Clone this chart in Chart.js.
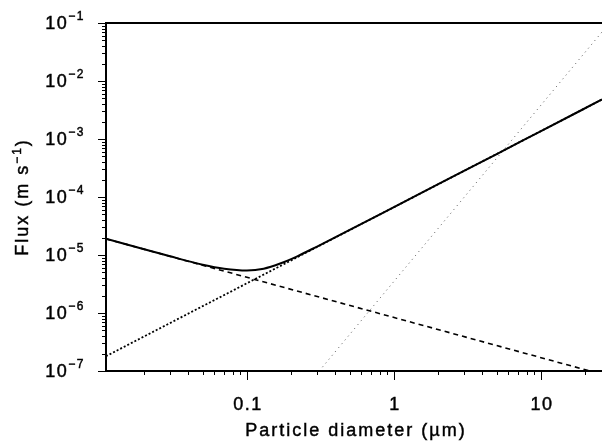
<!DOCTYPE html>
<html>
<head>
<meta charset="utf-8">
<script src="https://cdn.jsdelivr.net/npm/chart.js@4.4.1/dist/chart.umd.min.js"></script>
<style>
  html, body { margin: 0; padding: 0; background: #fff; }
  #wrap { width: 602px; height: 441px; }
</style>
</head>
<body>
<div id="wrap"><canvas id="fluxChart"></canvas></div>
<script>
// values: particle diameter (µm) -> flux (m s-1)
const totalDiam = [0.011, 0.02, 0.03, 0.05, 0.07, 0.1, 0.13, 0.17, 0.22, 0.3, 0.5, 1, 2, 5, 10, 26];
const totalFlux = [1.9e-5, 1.26e-5, 9.5e-6, 6.8e-6, 5.8e-6, 5.4e-6, 5.8e-6, 7.2e-6, 9.5e-6, 1.4e-5, 2.7e-5, 6.7e-5, 1.66e-4, 5.5e-4, 1.37e-3, 4.8e-3];

const diffusionDiam = [0.011, 21.5];
const diffusionFlux = [1.9e-5, 1e-7];

const impactionDiam = [0.011, 26];
const impactionFlux = [1.8e-7, 4.8e-3];

const settlingDiam = [0.31, 26];
const settlingFlux = [1e-7, 0.07];

// axes
const xMin = 0.011, xMax = 26;
const yMin = 1e-7, yMax = 1e-1;
const xTickValues = [0.1, 1, 10];
const xTickLabels = ['0.1', '1', '10'];
const yTickValues = [1e-7, 1e-6, 1e-5, 1e-4, 1e-3, 1e-2, 1e-1];
const yTickExps = ['\u22127', '\u22126', '\u22125', '\u22124', '\u22123', '\u22122', '\u22121'];

const FONT = "'Liberation Sans', Arial, Helvetica, sans-serif";

const pts = (xs, ys) => xs.map((x, i) => ({ x: x, y: ys[i] }));

// текст трохи жирніший, як у скані
function txt(ctx, s, x, y) {
  ctx.fillText(s, x, y);
  ctx.strokeText(s, x, y);
}

// малюємо рамку, тики і підписи самі (верхні індекси, розрядка)
const axesPlugin = {
  id: 'axesPlugin',
  afterDraw(chart) {
    const { ctx, chartArea: a, scales: { x, y } } = chart;
    ctx.save();
    ctx.strokeStyle = '#000';
    ctx.fillStyle = '#000';

    // рамка: верх, ліва вісь, нижня вісь
    ctx.lineWidth = 2;
    ctx.beginPath();
    ctx.moveTo(a.right, a.top);
    ctx.lineTo(a.left, a.top);
    ctx.lineTo(a.left, a.bottom);
    ctx.lineTo(a.right, a.bottom);
    ctx.stroke();

    // мінорні та основні тики
    ctx.lineWidth = 1;
    ctx.beginPath();
    for (let e = -3; e <= 2; e++) {
      for (let k = 1; k <= 9; k++) {
        const v = k * Math.pow(10, e);
        if (v < xMin || v > xMax) continue;
        const px = Math.round(x.getPixelForValue(v)) + 0.5;
        const len = k === 1 ? 9 : 4;
        ctx.moveTo(px, a.bottom);
        ctx.lineTo(px, a.bottom + len);
      }
    }
    for (let e = -7; e <= -1; e++) {
      for (let k = 1; k <= 9; k++) {
        const v = k * Math.pow(10, e);
        if (v < yMin * 0.999 || v > yMax * 1.001) continue;
        const py = Math.round(y.getPixelForValue(v)) + 0.5;
        const len = k === 1 ? 8 : 4;
        ctx.moveTo(a.left, py);
        ctx.lineTo(a.left - len, py);
      }
    }
    ctx.stroke();

    ctx.lineWidth = 0.45;

    // підписи осі X
    ctx.letterSpacing = '1.5px';
    ctx.font = '18px ' + FONT;
    ctx.textAlign = 'center';
    ctx.textBaseline = 'alphabetic';
    xTickValues.forEach((v, i) => {
      txt(ctx, xTickLabels[i], x.getPixelForValue(v) + 1, 410);
    });

    // підписи осі Y: 10 з показником
    ctx.textAlign = 'left';
    yTickValues.forEach((v, i) => {
      const py = y.getPixelForValue(v);
      ctx.font = '18px ' + FONT;
      const wBase = ctx.measureText('10').width;
      ctx.font = '12px ' + FONT;
      const wExp = ctx.measureText(yTickExps[i]).width;
      const x0 = 85 - wBase - wExp;
      ctx.font = '18px ' + FONT;
      txt(ctx, '10', x0, py + 5.5);
      ctx.font = '12px ' + FONT;
      txt(ctx, yTickExps[i], x0 + wBase, py - 3.5);
    });

    // назва осі X
    ctx.letterSpacing = '2px';
    ctx.font = '18px ' + FONT;
    ctx.textAlign = 'center';
    txt(ctx, 'Particle diameter (\u00b5m)', (a.left + a.right) / 2 + 2, 436);

    // назва осі Y, повернута
    ctx.translate(28, (a.top + a.bottom) / 2);
    ctx.rotate(-Math.PI / 2);
    ctx.textAlign = 'left';
    ctx.font = '18px ' + FONT;
    const part1 = 'Flux (m s', part3 = ')';
    const w1 = ctx.measureText(part1).width;
    const w3 = ctx.measureText(part3).width;
    ctx.font = '12px ' + FONT;
    const w2 = ctx.measureText('\u22121').width;
    let cx = -(w1 + w2 + w3) / 2;
    ctx.font = '18px ' + FONT;
    txt(ctx, part1, cx, 0);
    cx += w1;
    ctx.font = '12px ' + FONT;
    txt(ctx, '\u22121', cx, -7);
    cx += w2;
    ctx.font = '18px ' + FONT;
    txt(ctx, part3, cx, 0);

    ctx.restore();
  }
};

const chart = new Chart(document.getElementById('fluxChart'), {
  type: 'line',
  data: {
    datasets: [
      {
        label: 'Total',
        data: pts(totalDiam, totalFlux),
        borderColor: '#000',
        borderWidth: 2,
        cubicInterpolationMode: 'monotone',
        pointRadius: 0
      },
      {
        label: 'Diffusion',
        data: pts(diffusionDiam, diffusionFlux),
        borderColor: '#000',
        borderWidth: 1.6,
        borderDash: [5, 4],
        pointRadius: 0
      },
      {
        label: 'Impaction',
        data: pts(impactionDiam, impactionFlux),
        borderColor: '#000',
        borderWidth: 1.8,
        borderDash: [2, 2],
        pointRadius: 0
      },
      {
        label: 'Settling',
        data: pts(settlingDiam, settlingFlux),
        borderColor: '#555',
        borderWidth: 1,
        borderDash: [1, 4],
        pointRadius: 0
      }
    ]
  },
  options: {
    responsive: true,
    maintainAspectRatio: false,
    animation: false,
    layout: { padding: { top: 23, right: 0, bottom: 0, left: 0 } },
    plugins: {
      legend: { display: false },
      tooltip: { enabled: false }
    },
    scales: {
      x: {
        type: 'logarithmic',
        min: xMin,
        max: xMax,
        grid: { display: false },
        border: { display: false },
        ticks: { display: false },
        afterFit: (s) => { s.height = 70; }
      },
      y: {
        type: 'logarithmic',
        min: yMin,
        max: yMax,
        grid: { display: false },
        border: { display: false },
        ticks: { display: false },
        afterFit: (s) => { s.width = 106; }
      }
    }
  },
  plugins: [axesPlugin]
});
</script>
</body>
</html>
